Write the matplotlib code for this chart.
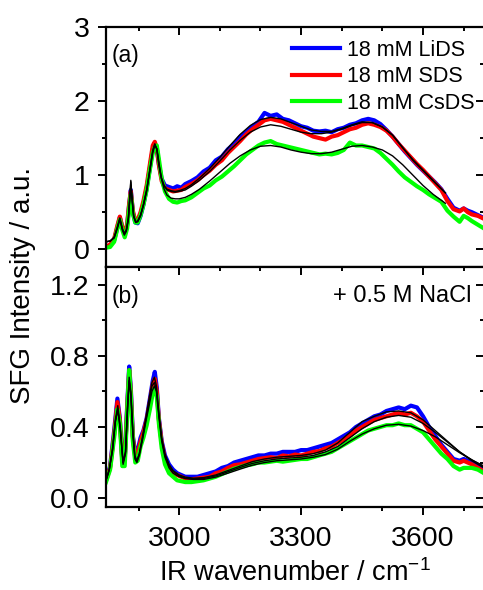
import matplotlib
matplotlib.use("Agg")
import matplotlib.pyplot as plt
from matplotlib.ticker import MultipleLocator

plt.rcParams['font.family'] = ['Liberation Sans', 'DejaVu Sans']
plt.rcParams['mathtext.default'] = 'regular'

# wavenumber grid of the measured spectra (both panels)
wn = [2820, 2830, 2840, 2848, 2854, 2860, 2866, 2872, 2877, 2881, 2886, 2892, 2898, 2905,
      2912, 2920, 2928, 2935, 2940, 2945, 2950, 2957, 2965, 2975, 2985, 2995, 3005, 3015,
      3030, 3045, 3060, 3075, 3090, 3105, 3120, 3135, 3150, 3165, 3180, 3195, 3210, 3225,
      3240, 3255, 3270, 3285, 3300, 3315, 3330, 3345, 3360, 3375, 3390, 3405, 3420, 3435,
      3450, 3465, 3480, 3495, 3510, 3525, 3540, 3555, 3570, 3585, 3600, 3615, 3630, 3645,
      3660, 3675, 3690, 3700, 3710, 3720, 3735, 3750]

# (a) surfactant only
lids_a = [0.03, 0.05, 0.12, 0.30, 0.43, 0.30, 0.20, 0.32, 0.60, 0.80, 0.50, 0.36, 0.35, 0.45,
          0.60, 0.82, 1.10, 1.35, 1.42, 1.35, 1.15, 0.95, 0.86, 0.84, 0.82, 0.85, 0.83, 0.88,
          0.92, 0.97, 1.05, 1.10, 1.20, 1.25, 1.35, 1.42, 1.52, 1.58, 1.66, 1.72, 1.84, 1.80,
          1.82, 1.76, 1.74, 1.70, 1.66, 1.64, 1.60, 1.59, 1.60, 1.58, 1.62, 1.64, 1.68, 1.70,
          1.74, 1.76, 1.74, 1.69, 1.61, 1.52, 1.42, 1.32, 1.23, 1.14, 1.06, 0.98, 0.90, 0.81,
          0.68, 0.56, 0.52, 0.55, 0.52, 0.50, 0.46, 0.42]
sds_a = [0.04, 0.06, 0.14, 0.32, 0.44, 0.30, 0.21, 0.34, 0.62, 0.78, 0.52, 0.38, 0.40, 0.50,
         0.65, 0.86, 1.15, 1.40, 1.45, 1.36, 1.14, 0.92, 0.82, 0.80, 0.78, 0.79, 0.80, 0.84,
         0.88, 0.93, 1.00, 1.06, 1.14, 1.20, 1.30, 1.38, 1.46, 1.55, 1.62, 1.68, 1.74, 1.76,
         1.74, 1.72, 1.68, 1.64, 1.60, 1.56, 1.52, 1.50, 1.48, 1.52, 1.54, 1.58, 1.62, 1.64,
         1.68, 1.70, 1.68, 1.65, 1.60, 1.52, 1.42, 1.33, 1.24, 1.15, 1.07, 0.98, 0.89, 0.80,
         0.65, 0.54, 0.51, 0.55, 0.50, 0.47, 0.45, 0.41]
csds_a = [0.02, 0.03, 0.10, 0.28, 0.40, 0.26, 0.16, 0.28, 0.55, 0.74, 0.48, 0.36, 0.36, 0.46,
          0.60, 0.80, 1.08, 1.30, 1.38, 1.40, 1.22, 0.95, 0.78, 0.68, 0.64, 0.63, 0.65, 0.66,
          0.70, 0.76, 0.82, 0.86, 0.93, 0.98, 1.05, 1.12, 1.20, 1.28, 1.34, 1.40, 1.44, 1.46,
          1.42, 1.40, 1.38, 1.36, 1.34, 1.32, 1.30, 1.28, 1.29, 1.28, 1.30, 1.34, 1.44, 1.40,
          1.40, 1.38, 1.36, 1.30, 1.22, 1.14, 1.05, 0.97, 0.91, 0.85, 0.80, 0.74, 0.69, 0.64,
          0.52, 0.44, 0.37, 0.45, 0.42, 0.38, 0.33, 0.28]

wn_fit_a = [2820, 2830, 2840, 2848, 2854, 2860, 2865, 2870, 2875, 2879, 2881, 2884, 2888,
            2893, 2898, 2905, 2912, 2920, 2928, 2935, 2940, 2945, 2950, 2956, 2963, 2970,
            2980, 2990, 3000, 3015, 3030, 3050, 3075, 3100, 3125, 3150, 3175, 3200, 3225,
            3250, 3275, 3300, 3325, 3350, 3375, 3400, 3425, 3450, 3475, 3500, 3525, 3550,
            3575, 3600, 3625, 3655]
fit_lids_a = [0.10, 0.11, 0.16, 0.30, 0.42, 0.28, 0.21, 0.26, 0.42, 0.75, 0.93, 0.70, 0.45,
              0.37, 0.38, 0.46, 0.60, 0.80, 1.08, 1.33, 1.42, 1.35, 1.15, 0.97, 0.86, 0.81,
              0.79, 0.78, 0.79, 0.82, 0.87, 0.96, 1.09, 1.24, 1.40, 1.55, 1.67, 1.75, 1.78,
              1.76, 1.71, 1.66, 1.61, 1.59, 1.59, 1.63, 1.68, 1.72, 1.71, 1.65, 1.54, 1.37,
              1.20, 1.06, 0.92, 0.76]
fit_sds_a = [0.10, 0.11, 0.16, 0.30, 0.42, 0.28, 0.21, 0.26, 0.42, 0.74, 0.91, 0.70, 0.45,
             0.37, 0.38, 0.46, 0.60, 0.80, 1.08, 1.33, 1.42, 1.35, 1.14, 0.96, 0.85, 0.80,
             0.78, 0.77, 0.78, 0.80, 0.85, 0.93, 1.05, 1.19, 1.34, 1.47, 1.58, 1.65, 1.68,
             1.66, 1.62, 1.58, 1.56, 1.56, 1.58, 1.62, 1.67, 1.71, 1.71, 1.65, 1.54, 1.37,
             1.21, 1.07, 0.93, 0.76]
fit_csds_a = [0.10, 0.11, 0.15, 0.28, 0.40, 0.26, 0.19, 0.24, 0.40, 0.70, 0.86, 0.66, 0.44,
              0.36, 0.37, 0.45, 0.59, 0.78, 1.06, 1.30, 1.40, 1.36, 1.18, 0.96, 0.81, 0.73,
              0.69, 0.68, 0.68, 0.70, 0.74, 0.81, 0.92, 1.04, 1.16, 1.26, 1.34, 1.39, 1.40,
              1.38, 1.34, 1.31, 1.29, 1.29, 1.31, 1.35, 1.39, 1.40, 1.38, 1.34, 1.26, 1.14,
              1.00, 0.86, 0.74, 0.62]

# (b) + 0.5 M NaCl
lids_b = [0.10, 0.18, 0.38, 0.56, 0.45, 0.22, 0.22, 0.52, 0.74, 0.62, 0.35, 0.25, 0.27, 0.34,
          0.38, 0.45, 0.56, 0.66, 0.71, 0.62, 0.45, 0.32, 0.24, 0.19, 0.16, 0.14, 0.13, 0.12,
          0.12, 0.12, 0.13, 0.14, 0.15, 0.17, 0.18, 0.20, 0.21, 0.22, 0.23, 0.24, 0.24, 0.25,
          0.25, 0.26, 0.26, 0.26, 0.27, 0.27, 0.28, 0.29, 0.30, 0.31, 0.33, 0.35, 0.37, 0.40,
          0.42, 0.44, 0.46, 0.47, 0.49, 0.50, 0.51, 0.50, 0.52, 0.51, 0.46, 0.40, 0.35, 0.30,
          0.26, 0.22, 0.21, 0.22, 0.21, 0.20, 0.18, 0.16]
sds_b = [0.10, 0.17, 0.36, 0.54, 0.44, 0.21, 0.21, 0.50, 0.72, 0.60, 0.34, 0.23, 0.25, 0.32,
         0.37, 0.44, 0.54, 0.64, 0.67, 0.60, 0.44, 0.31, 0.22, 0.17, 0.14, 0.13, 0.12, 0.11,
         0.105, 0.11, 0.115, 0.12, 0.14, 0.15, 0.17, 0.185, 0.19, 0.20, 0.21, 0.22, 0.225, 0.23,
         0.225, 0.24, 0.235, 0.245, 0.24, 0.25, 0.26, 0.265, 0.28, 0.29, 0.31, 0.33, 0.35, 0.38,
         0.40, 0.42, 0.44, 0.45, 0.46, 0.47, 0.48, 0.47, 0.48, 0.46, 0.43, 0.38, 0.33, 0.29,
         0.25, 0.21, 0.20, 0.21, 0.20, 0.19, 0.17, 0.15]
csds_b = [0.09, 0.16, 0.34, 0.50, 0.42, 0.18, 0.18, 0.48, 0.72, 0.58, 0.32, 0.20, 0.21, 0.29,
          0.34, 0.41, 0.50, 0.59, 0.62, 0.57, 0.42, 0.28, 0.19, 0.14, 0.12, 0.10, 0.095, 0.09,
          0.09, 0.095, 0.10, 0.11, 0.12, 0.135, 0.15, 0.165, 0.175, 0.185, 0.19, 0.20, 0.20, 0.205,
          0.21, 0.205, 0.21, 0.215, 0.22, 0.22, 0.23, 0.24, 0.25, 0.26, 0.28, 0.30, 0.32, 0.34,
          0.36, 0.38, 0.39, 0.40, 0.41, 0.41, 0.42, 0.41, 0.41, 0.39, 0.37, 0.33, 0.29, 0.25,
          0.22, 0.18, 0.16, 0.17, 0.17, 0.17, 0.16, 0.14]

wn_fit_b = [2820, 2828, 2836, 2843, 2849, 2855, 2862, 2868, 2873, 2877, 2881, 2886, 2891,
            2896, 2902, 2910, 2918, 2926, 2933, 2939, 2944, 2950, 2957, 2965, 2975, 2985,
            3000, 3015, 3035, 3060, 3090, 3120, 3150, 3180, 3210, 3240, 3270, 3300, 3330,
            3360, 3390, 3420, 3450, 3480, 3510, 3540, 3570, 3600, 3630, 3660, 3690, 3720, 3750]
fit_lids_b = [0.10, 0.16, 0.28, 0.44, 0.52, 0.40, 0.20, 0.26, 0.52, 0.68, 0.60, 0.38, 0.24,
              0.21, 0.25, 0.35, 0.45, 0.56, 0.65, 0.68, 0.63, 0.48, 0.34, 0.25, 0.19, 0.155,
              0.13, 0.118, 0.112, 0.115, 0.13, 0.155, 0.18, 0.205, 0.22, 0.23, 0.235, 0.24, 0.25,
              0.27, 0.31, 0.37, 0.43, 0.46, 0.485, 0.49, 0.48, 0.44, 0.38, 0.32, 0.26, 0.21, 0.17]
fit_sds_b = [0.10, 0.16, 0.27, 0.43, 0.50, 0.39, 0.20, 0.26, 0.51, 0.66, 0.59, 0.37, 0.23,
             0.21, 0.25, 0.34, 0.44, 0.54, 0.63, 0.65, 0.61, 0.47, 0.33, 0.24, 0.18, 0.15,
             0.125, 0.113, 0.108, 0.11, 0.125, 0.148, 0.172, 0.195, 0.21, 0.22, 0.225, 0.23, 0.24,
             0.26, 0.29, 0.34, 0.39, 0.43, 0.455, 0.465, 0.455, 0.42, 0.37, 0.315, 0.26, 0.215, 0.175]
fit_csds_b = [0.10, 0.16, 0.27, 0.43, 0.50, 0.39, 0.19, 0.25, 0.50, 0.66, 0.58, 0.36, 0.22,
              0.20, 0.24, 0.33, 0.43, 0.52, 0.60, 0.63, 0.60, 0.46, 0.32, 0.23, 0.17, 0.14,
              0.12, 0.11, 0.105, 0.105, 0.118, 0.14, 0.163, 0.185, 0.20, 0.21, 0.215, 0.22, 0.23,
              0.245, 0.275, 0.32, 0.36, 0.39, 0.41, 0.415, 0.405, 0.38, 0.345, 0.30, 0.255, 0.215, 0.18]

labels = ["18 mM LiDS", "18 mM SDS", "18 mM CsDS"]
colors = ["#0000ff", "#ff0000", "#00ff00"]

fig = plt.figure(figsize=(4.83, 5.9), dpi=100)
ax_a = fig.add_axes([0.2195, 0.5475, 0.7826, 0.4067])
ax_b = fig.add_axes([0.2195, 0.1407, 0.7826, 0.4068])

ax_a.set_ylim(-0.24, 3.0)
ax_a.yaxis.set_major_locator(MultipleLocator(1))
ax_a.yaxis.set_minor_locator(MultipleLocator(0.5))

ax_b.set_ylim(-0.05, 1.3)
ax_b.yaxis.set_major_locator(MultipleLocator(0.4))
ax_b.yaxis.set_minor_locator(MultipleLocator(0.2))
ax_b.yaxis.set_major_formatter(matplotlib.ticker.FormatStrFormatter('%.1f'))

for ax in (ax_a, ax_b):
    ax.set_xlim(2820, 3750)
    ax.xaxis.set_major_locator(MultipleLocator(300))
    ax.xaxis.set_minor_locator(MultipleLocator(100))
    for s in ax.spines.values():
        s.set_linewidth(1.6)
    ax.tick_params(which='both', width=1.4, labelsize=20.5, direction='out',
                   bottom=True, top=True, left=True, right=True)
    ax.tick_params(which='major', length=6)
    ax.tick_params(which='minor', length=3)
    ax.tick_params(axis='y', pad=6)
    ax.tick_params(axis='x', pad=8)

ax_a.tick_params(axis='x', labelbottom=False)

# ticks on right and top point inward, left and bottom outward
for ax in (ax_a, ax_b):
    for t in ax.yaxis.get_major_ticks() + ax.yaxis.get_minor_ticks():
        t.tick2line.set_marker(matplotlib.markers.TICKLEFT)
    for t in ax.xaxis.get_major_ticks() + ax.xaxis.get_minor_ticks():
        t.tick2line.set_marker(matplotlib.markers.TICKDOWN)

data_a = [lids_a, sds_a, csds_a]
fits_a = [fit_lids_a, fit_sds_a, fit_csds_a]
data_b = [lids_b, sds_b, csds_b]
fits_b = [fit_lids_b, fit_sds_b, fit_csds_b]

handles = []
for y, c, lab in zip(data_a, colors, labels):
    h, = ax_a.plot(wn, y, color=c, lw=3.0, label=lab, solid_joinstyle='round')
    handles.append(h)
for y in fits_a:
    ax_a.plot(wn_fit_a, y, color='black', lw=1.0)

for y, c in zip(data_b, colors):
    ax_b.plot(wn, y, color=c, lw=3.0, solid_joinstyle='round')
for y in fits_b:
    ax_b.plot(wn_fit_b, y, color='black', lw=1.0)

ax_a.legend(handles=handles, loc='upper right', bbox_to_anchor=(0.976, 0.946),
            frameon=False, fontsize=15.5, handlelength=2.2, handletextpad=0.35,
            labelspacing=0.25, borderaxespad=0, borderpad=0)

ax_a.text(0.016, 0.883, "(a)", transform=ax_a.transAxes, fontsize=16.5, va='center', ha='left')
ax_b.text(0.016, 0.879, "(b)", transform=ax_b.transAxes, fontsize=16.5, va='center', ha='left')
ax_b.text(0.968, 0.879, "+ 0.5 M NaCl", transform=ax_b.transAxes, fontsize=17,
          va='center', ha='right')

fig.text(23 / 483, 1 - 286 / 590, "SFG Intensity / a.u.", rotation=90, fontsize=20,
         ha='center', va='center')
fig.text(295 / 483, 3 / 590, "IR wavenumber / cm$^{-1}$", fontsize=19.5,
         ha='center', va='bottom')

fig.savefig("out.png", dpi=100)
